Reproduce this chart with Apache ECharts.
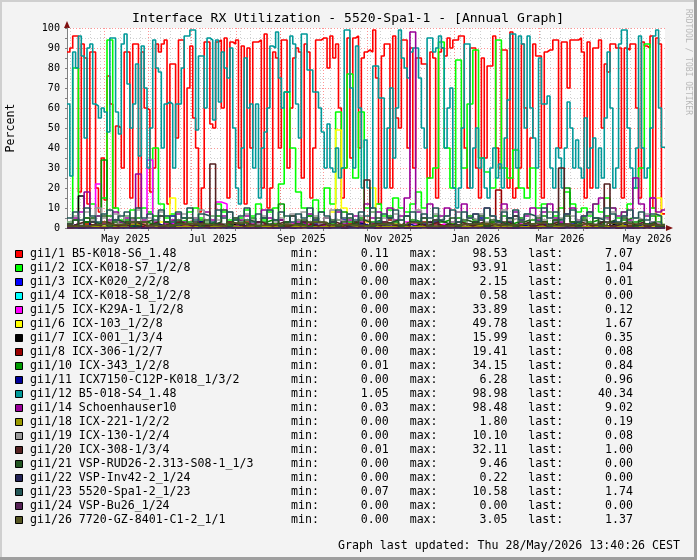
<!DOCTYPE html>
<html>
<head>
<meta charset="utf-8">
<script src="https://cdn.jsdelivr.net/npm/echarts@6/dist/echarts.min.js"></script>
<style>
  html, body { margin: 0; padding: 0; background: #f3f3f3; }
  #chart { width: 697px; height: 560px; }
</style>
</head>
<body>
<div id="chart"></div>
<script>
const DAY = 86400000;
const END = Date.UTC(2026, 4, 28, 11, 40);
const START = END - 418.5 * DAY;

// month grid lines and axis labels
const monthLines = ['2025-05-01', '2025-06-01', '2025-07-01', '2025-08-01', '2025-09-01', '2025-10-01',
  '2025-11-01', '2025-12-01', '2026-01-01', '2026-02-01', '2026-03-01', '2026-04-01', '2026-05-01'];
const labelDates = ['2025-05-16', '2025-07-16', '2025-09-16', '2025-11-16', '2026-01-16', '2026-03-16', '2026-05-16'];
const labelTexts = ['May 2025', 'Jul 2025', 'Sep 2025', 'Nov 2025', 'Jan 2026', 'Mar 2026', 'May 2026'];

// legend
const names = ['gi1/1 B5-K018-S6_1.48', 'gi1/2 ICX-K018-S7_1/2/8', 'gi1/3 ICX-K020_2/2/8', 'gi1/4 ICX-K018-S8_1/2/8',
  'gi1/5 ICX-K29A-1_1/2/8', 'gi1/6 ICX-103_1/2/8', 'gi1/7 ICX-001_1/3/4', 'gi1/8 ICX-306-1/2/7',
  'gi1/10 ICX-343_1/2/8', 'gi1/11 ICX7150-C12P-K018_1/3/2', 'gi1/12 B5-018-S4_1.48', 'gi1/14 Schoenhauser10',
  'gi1/18 ICX-221-1/2/2', 'gi1/19 ICX-130-1/2/4', 'gi1/20 ICX-308-1/3/4', 'gi1/21 VSP-RUD26-2.313-S08-1_1/3',
  'gi1/22 VSP-Inv42-2_1/24', 'gi1/23 5520-Spa1-2_1/23', 'gi1/24 VSP-Bu26_1/24', 'gi1/26 7720-GZ-8401-C1-2_1/1'];
const colors = ['#ff0000', '#00ff00', '#0000ff', '#00ffff', '#ff00ff', '#ffff00', '#000000', '#990000',
  '#009900', '#000099', '#009999', '#990099', '#999900', '#999999', '#552222', '#225522',
  '#222255', '#225555', '#552255', '#555522'];
const statMin = ['0.11', '0.00', '0.00', '0.00', '0.00', '0.00', '0.00', '0.00', '0.01', '0.00',
  '1.05', '0.03', '0.00', '0.00', '0.01', '0.00', '0.00', '0.07', '0.00', '0.00'];
const statMax = ['98.53', '93.91', '2.15', '0.58', '33.89', '49.78', '15.99', '19.41', '34.15', '6.28',
  '98.98', '98.48', '1.80', '10.10', '32.11', '9.46', '0.22', '10.58', '0.00', '3.05'];
const statLast = ['7.07', '1.04', '0.01', '0.00', '0.12', '1.67', '0.35', '0.08', '0.84', '0.96',
  '40.34', '9.02', '0.19', '0.08', '1.00', '0.00', '0.00', '1.74', '0.00', '1.37'];

// series values, 2-day steps
const gi1_1 = [88, 90, 96, 96, 18, 92, 85, 12, 88, 88,
  20, 8, 35, 14, 76, 62, 10, 51, 50, 30,
  88, 88, 15, 92, 92, 10, 88, 60, 59, 18,
  30, 92, 88, 92, 94, 12, 82, 82, 45, 94,
  94, 12, 70, 91, 55, 40, 8, 20, 93, 93,
  52, 50, 93, 94, 60, 95, 15, 93, 92, 94,
  30, 91, 12, 90, 40, 93, 93, 94, 20, 97,
  10, 20, 88, 85, 40, 94, 94, 30, 60, 85,
  90, 88, 25, 92, 88, 15, 40, 94, 94, 95,
  95, 80, 96, 85, 92, 60, 15, 30, 95, 35,
  95, 96, 40, 85, 88, 89, 88, 99, 75, 12,
  86, 92, 92, 20, 96, 55, 50, 94, 94, 40,
  90, 30, 85, 85, 82, 82, 25, 88, 85, 15,
  88, 90, 86, 95, 90, 94, 94, 96, 96, 40,
  20, 90, 90, 30, 15, 85, 35, 81, 81, 96,
  40, 30, 89, 89, 20, 98, 15, 20, 30, 92,
  60, 20, 45, 92, 86, 86, 15, 88, 89, 89,
  94, 94, 40, 93, 93, 70, 94, 94, 94, 95,
  88, 15, 93, 20, 90, 90, 94, 50, 82, 78,
  92, 92, 90, 90, 15, 90, 89, 92, 92, 60,
  15, 93, 91, 90, 96, 10, 95, 92, 7.07];
const gi1_12 = [62, 26, 88, 80, 96, 86, 45, 90, 92, 62,
  61, 55, 60, 58, 48, 95, 95, 58, 47, 92,
  97, 72, 50, 62, 82, 36, 91, 70, 30, 50,
  94, 80, 78, 40, 62, 63, 62, 30, 62, 62,
  80, 96, 96, 99, 99, 49, 86, 86, 60, 95,
  94, 54, 94, 63, 88, 80, 75, 90, 50, 20,
  12, 40, 85, 60, 62, 30, 62, 15, 40, 48,
  60, 91, 90, 98, 75, 60, 68, 68, 96, 92,
  62, 45, 97, 97, 79, 79, 68, 68, 60, 48,
  30, 52, 30, 28, 40, 25, 30, 99, 99, 70,
  30, 91, 60, 20, 44, 20, 10, 81, 81, 65,
  65, 20, 50, 70, 35, 60, 99, 85, 80, 75,
  88, 90, 90, 75, 50, 40, 95, 95, 88, 90,
  96, 90, 40, 60, 70, 20, 10, 20, 50, 92,
  92, 20, 40, 50, 30, 35, 20, 15, 30, 40,
  25, 32, 20, 45, 64, 97, 97, 30, 96, 92,
  50, 96, 60, 45, 30, 85, 62, 62, 66, 30,
  20, 40, 35, 20, 40, 63, 50, 30, 44, 30,
  25, 55, 30, 40, 45, 20, 40, 25, 55, 88,
  60, 20, 30, 92, 99, 99, 50, 30, 20, 40,
  96, 40, 25, 30, 50, 96, 99, 60, 40.34];

// 4-day steps
const gi1_2 = [3, 80, 8, 5, 12, 6, 15, 94, 10, 4,
  6, 9, 3, 10, 8, 40, 12, 5, 7, 3,
  4, 8, 10, 5, 3, 6, 12, 8, 4, 2,
  5, 9, 6, 12, 4, 8, 10, 22, 68, 40,
  18, 10, 6, 14, 8, 20, 12, 58, 30, 77,
  25, 58, 10, 8, 12, 6, 9, 15, 10, 8,
  12, 18, 10, 25, 30, 93, 40, 20, 84, 30,
  62, 89, 35, 28, 20, 94, 30, 25, 39, 20,
  15, 30, 10, 12, 8, 6, 10, 18, 12, 8,
  10, 6, 12, 8, 15, 10, 5, 8, 12, 20,
  30, 92, 10, 6, 1.04];
const gi1_5 = [1, 2, 8, 3, 5, 22, 2, 1, 3, 2,
  1, 4, 2, 3, 34, 2, 1, 3, 2, 1,
  2, 1, 3, 2, 1, 2, 13, 12, 2, 1,
  1, 2, 1, 3, 2, 1, 2, 1, 3, 2,
  1, 2, 1, 2, 3, 1, 2, 1, 2, 1,
  2, 1, 3, 2, 1, 2, 1, 2, 1, 3,
  2, 1, 2, 3, 1, 2, 1, 2, 1, 2,
  1, 2, 3, 1, 2, 1, 2, 1, 2, 3,
  1, 2, 1, 2, 1, 3, 2, 1, 2, 1,
  2, 1, 2, 1, 3, 2, 1, 2, 1, 2,
  3, 1, 15, 2, 0.12];
const gi1_6 = [0, 1, 0, 2, 1, 0, 3, 1, 0, 2,
  1, 0, 2, 1, 0, 1, 3, 2, 15, 1,
  0, 2, 1, 0, 1, 2, 0, 1, 3, 1,
  0, 1, 2, 0, 1, 0, 2, 1, 0, 1,
  2, 0, 1, 3, 1, 2, 8, 49, 10, 2,
  1, 0, 3, 20, 2, 1, 0, 2, 1, 0,
  1, 2, 0, 1, 3, 1, 0, 2, 1, 0,
  2, 1, 0, 1, 2, 0, 1, 3, 1, 0,
  1, 2, 0, 1, 0, 2, 1, 0, 3, 1,
  0, 1, 2, 0, 1, 0, 2, 1, 0, 1,
  2, 0, 1, 15, 1.67];
const gi1_7 = [1, 2, 16, 3, 1, 2, 0, 1, 2, 1,
  3, 1, 2, 0, 1, 2, 1, 3, 1, 0,
  2, 1, 0, 3, 1, 2, 1, 0, 2, 1,
  3, 1, 2, 0, 1, 2, 1, 4, 1, 0,
  2, 1, 3, 1, 0, 2, 1, 2, 0, 1,
  3, 2, 1, 0, 2, 1, 5, 1, 2, 0,
  1, 2, 1, 3, 0, 1, 2, 1, 0, 2,
  1, 3, 1, 2, 0, 1, 2, 1, 6, 1,
  2, 0, 1, 3, 1, 2, 0, 1, 2, 1,
  0, 2, 1, 3, 1, 2, 0, 1, 2, 1,
  0, 1, 2, 0, 0.35];
const gi1_8 = [0, 1, 0, 2, 1, 0, 1, 3, 0, 1,
  2, 0, 1, 0, 1, 2, 0, 1, 0, 3,
  1, 0, 2, 1, 0, 1, 0, 2, 1, 0,
  1, 3, 0, 1, 2, 0, 1, 0, 2, 1,
  0, 1, 2, 0, 1, 0, 3, 1, 0, 2,
  1, 0, 1, 2, 0, 1, 4, 0, 1, 2,
  0, 1, 3, 0, 2, 1, 0, 1, 2, 0,
  1, 0, 2, 1, 3, 19, 2, 0, 1, 0,
  2, 1, 0, 3, 1, 0, 2, 1, 0, 1,
  0, 2, 1, 0, 1, 3, 0, 1, 2, 0,
  1, 0, 2, 1, 0.08];
const gi1_10 = [2, 4, 1, 3, 5, 2, 34, 6, 3, 2,
  4, 1, 5, 3, 2, 6, 1, 3, 4, 2,
  5, 3, 1, 4, 2, 3, 6, 2, 1, 4,
  3, 2, 5, 1, 3, 4, 2, 12, 3, 1,
  4, 2, 6, 3, 1, 5, 2, 4, 8, 3,
  2, 5, 1, 3, 4, 2, 6, 3, 1, 2,
  4, 3, 5, 2, 6, 3, 4, 2, 5, 3,
  6, 4, 2, 5, 3, 4, 6, 2, 3, 5,
  2, 4, 3, 6, 2, 4, 5, 20, 3, 2,
  5, 3, 4, 2, 6, 3, 2, 4, 5, 3,
  4, 2, 6, 3, 0.84];
const gi1_11 = [1, 2, 0, 1, 3, 1, 0, 2, 1, 0,
  2, 1, 3, 0, 1, 2, 1, 0, 6, 1,
  0, 2, 1, 3, 1, 0, 2, 1, 0, 1,
  2, 0, 1, 3, 1, 2, 0, 1, 2, 0,
  1, 3, 0, 2, 1, 0, 1, 2, 4, 1,
  0, 2, 1, 0, 3, 1, 2, 0, 1, 2,
  1, 0, 2, 1, 3, 0, 1, 2, 1, 0,
  2, 1, 5, 0, 1, 2, 1, 3, 0, 1,
  2, 1, 0, 2, 1, 3, 1, 0, 2, 1,
  0, 1, 2, 1, 0, 3, 1, 2, 0, 1,
  2, 1, 3, 1, 0.96];
const gi1_14 = [2, 5, 1, 18, 3, 6, 2, 4, 8, 3,
  5, 2, 27, 4, 1, 3, 6, 2, 4, 7,
  3, 1, 5, 2, 8, 4, 2, 6, 3, 1,
  4, 6, 2, 3, 9, 5, 1, 4, 2, 6,
  3, 2, 7, 4, 1, 5, 3, 8, 2, 4,
  6, 3, 12, 5, 8, 3, 10, 4, 6, 15,
  98, 8, 5, 12, 4, 6, 10, 3, 8, 12,
  5, 7, 4, 10, 6, 3, 12, 5, 8, 4,
  6, 10, 4, 8, 12, 5, 3, 7, 10, 4,
  6, 8, 12, 15, 5, 10, 6, 8, 4, 25,
  12, 6, 15, 8, 9.02];
const gi1_19 = [3, 6, 2, 8, 4, 10, 5, 3, 7, 2,
  6, 4, 9, 3, 5, 2, 8, 6, 3, 4,
  7, 2, 5, 9, 3, 6, 4, 2, 8, 5,
  3, 7, 4, 2, 6, 9, 3, 5, 2, 7,
  4, 8, 3, 6, 2, 5, 9, 4, 3, 7,
  2, 6, 4, 8, 3, 5, 2, 7, 4, 6,
  3, 9, 5, 2, 7, 4, 6, 3, 8, 2,
  5, 4, 7, 3, 6, 2, 9, 4, 5, 3,
  7, 2, 6, 4, 8, 3, 5, 2, 6, 4,
  3, 7, 2, 5, 4, 8, 3, 6, 2, 5,
  4, 7, 3, 2, 0.08];
const gi1_20 = [1, 2, 3, 1, 2, 1, 3, 2, 1, 2,
  1, 3, 2, 1, 2, 3, 1, 2, 1, 3,
  2, 1, 2, 3, 1, 32, 2, 1, 3, 2,
  1, 2, 1, 3, 2, 1, 2, 3, 1, 2,
  1, 3, 2, 1, 2, 1, 3, 2, 1, 2,
  3, 1, 24, 2, 1, 3, 2, 1, 2, 1,
  3, 2, 1, 2, 3, 1, 2, 1, 3, 2,
  1, 2, 3, 1, 2, 1, 3, 2, 1, 2,
  3, 1, 2, 1, 2, 3, 30, 2, 1, 3,
  2, 1, 2, 3, 22, 1, 2, 3, 1, 2,
  3, 1, 2, 1, 1.00];
const gi1_21 = [2, 4, 1, 5, 3, 2, 6, 1, 4, 3,
  2, 5, 1, 3, 4, 2, 6, 3, 1, 4,
  2, 5, 3, 1, 4, 2, 3, 9, 1, 5,
  2, 4, 3, 1, 5, 2, 4, 1, 3, 6,
  2, 4, 1, 5, 3, 2, 4, 1, 3, 5,
  2, 4, 3, 1, 5, 2, 3, 4, 1, 6,
  3, 2, 5, 1, 4, 3, 2, 5, 1, 4,
  3, 2, 6, 1, 4, 3, 2, 5, 1, 3,
  4, 2, 5, 3, 1, 4, 2, 6, 3, 1,
  4, 2, 5, 1, 3, 4, 2, 5, 3, 1,
  4, 2, 3, 1, 0];
const gi1_23 = [5, 8, 4, 10, 6, 3, 7, 9, 4, 6,
  8, 3, 10, 5, 7, 4, 9, 6, 3, 8,
  5, 10, 4, 7, 6, 3, 9, 5, 8, 4,
  6, 10, 3, 7, 5, 9, 4, 8, 6, 3,
  7, 5, 10, 4, 8, 6, 3, 9, 5, 7,
  4, 8, 6, 10, 3, 7, 5, 9, 4, 6,
  8, 3, 7, 5, 10, 4, 6, 9, 3, 8,
  5, 7, 4, 10, 6, 3, 8, 5, 9, 4,
  7, 6, 3, 10, 5, 8, 4, 7, 9, 3,
  6, 8, 5, 4, 10, 7, 3, 6, 9, 5,
  8, 4, 7, 6, 1.74];

// 14-day steps
const gi1_3 = [0.3, 0.5, 1.2, 0.4, 0.8, 2.1, 0.5, 0.3, 0.9, 0.6, 0.4, 1.1, 0.7, 0.3, 0.5,
  0.8, 1.5, 0.4, 0.6, 0.3, 0.9, 0.5, 0.7, 1.2, 0.4, 0.6, 0.3, 0.8, 0.5, 0.01];
const gi1_4 = [0.1, 0.2, 0.3, 0.1, 0.5, 0.2, 0.1, 0.3, 0.2, 0.1, 0.4, 0.2, 0.1, 0.3, 0.2,
  0.5, 0.1, 0.2, 0.3, 0.1, 0.2, 0.4, 0.1, 0.2, 0.3, 0.1, 0.2, 0.1, 0.3, 0];
const gi1_18 = [0.5, 1.0, 0.7, 1.8, 0.4, 0.9, 0.6, 1.2, 0.3, 0.8, 1.1, 0.5, 0.7, 1.4, 0.4,
  0.9, 0.6, 1.0, 0.3, 0.8, 1.3, 0.5, 0.7, 1.0, 0.4, 0.9, 0.6, 1.2, 0.5, 0.19];
const gi1_22 = [0.05, 0.1, 0.2, 0.1, 0.05, 0.15, 0.1, 0.2, 0.05, 0.1, 0.15, 0.1, 0.05, 0.2, 0.1,
  0.05, 0.15, 0.1, 0.2, 0.05, 0.1, 0.15, 0.05, 0.1, 0.2, 0.1, 0.05, 0.15, 0.1, 0];
const gi1_24 = [0, 0, 0, 0, 0, 0, 0, 0, 0, 0, 0, 0, 0, 0, 0,
  0, 0, 0, 0, 0, 0, 0, 0, 0, 0, 0, 0, 0, 0, 0];
const gi1_26 = [1.0, 2.0, 1.5, 3.0, 1.2, 2.2, 1.8, 1.0, 2.5, 1.4, 2.0, 1.1, 2.8, 1.6, 1.2,
  2.1, 1.5, 2.6, 1.0, 1.8, 2.3, 1.3, 1.9, 2.7, 1.4, 2.0, 1.2, 2.4, 1.6, 1.37];

const values = [gi1_1, gi1_2, gi1_3, gi1_4, gi1_5, gi1_6, gi1_7, gi1_8, gi1_10, gi1_11,
  gi1_12, gi1_14, gi1_18, gi1_19, gi1_20, gi1_21, gi1_22, gi1_23, gi1_24, gi1_26];
const stepDays = [2, 4, 14, 14, 4, 4, 4, 4, 4, 4, 2, 4, 14, 4, 4, 4, 14, 4, 14, 14];

function toPoints(vals, step) {
  const pts = vals.map((v, i) => [START + i * step * DAY, v]);
  pts.push([END, vals[vals.length - 1]]);
  return pts;
}

// weekly minor grid (mondays)
const weekLines = [];
for (let t = Date.UTC(2025, 3, 7); t < END; t += 7 * DAY) weekLines.push(t);

const monthTimes = monthLines.map(d => Date.parse(d));
const labelTimes = labelDates.map(d => Date.parse(d));

const MONO = '"DejaVu Sans Mono", monospace';
const LEG = 11.6;
const AX = 10.15;

function gridLines(times, color) {
  return {
    type: 'custom', z: 1, silent: true, clip: true,
    data: times.map(t => [t, 0]),
    renderItem(params, api) {
      const a = api.coord([api.value(0), 100]);
      const b = api.coord([api.value(0), 0]);
      const x = Math.round(a[0]) + 0.5;
      return {
        type: 'line',
        shape: {x1: x, y1: a[1], x2: x, y2: b[1]},
        style: {stroke: color, lineWidth: 1, lineDash: [1, 2]}
      };
    }
  };
}

const series = [
  gridLines(weekLines, 'rgba(170,170,170,0.55)'),
  gridLines(monthTimes, 'rgba(255,60,60,0.55)')
].concat(values.map((vals, k) => ({
  name: names[k],
  type: 'line',
  step: 'end',
  z: 2,
  symbol: 'none',
  silent: true,
  clip: true,
  lineStyle: {color: colors[k], width: 1.6},
  data: toPoints(vals, stepDays[k])
})));

// legend + texts as graphic elements
const graphic = [
  {type: 'rect', shape: {x: 0, y: 0, width: 697, height: 2}, style: {fill: '#cfcfcf'}},
  {type: 'rect', shape: {x: 0, y: 0, width: 2, height: 560}, style: {fill: '#cfcfcf'}},
  {type: 'rect', shape: {x: 0, y: 557, width: 697, height: 3}, style: {fill: '#9e9e9e'}},
  {type: 'rect', shape: {x: 694, y: 0, width: 3, height: 560}, style: {fill: '#9e9e9e'}},
  {type: 'text', x: 348, y: 19, style: {text: 'Interface RX Utilization - 5520-Spa1-1 - [Annual Graph]',
    font: '13.05px ' + MONO, fill: '#000', align: 'center', verticalAlign: 'middle'}},
  {type: 'text', x: 11, y: 128, rotation: Math.PI / 2, style: {text: 'Percent',
    font: LEG + 'px ' + MONO, fill: '#000', align: 'center', verticalAlign: 'middle'}},
  {type: 'text', x: 688, y: 62, rotation: -Math.PI / 2, style: {text: 'RRDTOOL / TOBI OETIKER',
    font: '8px ' + MONO, fill: '#b8b8b8', align: 'center', verticalAlign: 'middle'}},
  {type: 'text', x: 680, y: 546, style: {text: 'Graph last updated: Thu 28/May/2026 13:40:26 CEST',
    font: LEG + 'px ' + MONO, fill: '#000', align: 'right', verticalAlign: 'middle'}},
  {type: 'polygon', shape: {points: [[64, 28], [70, 28], [67, 21]]}, style: {fill: '#7f1010'}},
  {type: 'polygon', shape: {points: [[666, 225], [666, 231], [673, 228]]}, style: {fill: '#7f1010'}}
];
const CW = 6.98;
names.forEach((n, i) => {
  const y = 254 + i * 14;
  const txt = (s, x, align) => ({type: 'text', x, y, style: {text: s, font: LEG + 'px ' + MONO,
    fill: '#000', align, verticalAlign: 'middle'}});
  graphic.push({type: 'rect', shape: {x: 15.5, y: y - 3.5, width: 7, height: 7},
    style: {fill: colors[i], stroke: '#000', lineWidth: 1}});
  graphic.push(txt(n, 30, 'left'));
  graphic.push(txt('min:', 291, 'left'));
  graphic.push(txt(statMin[i], 291 + 14 * CW, 'right'));
  graphic.push(txt('max:', 291 + 17 * CW, 'left'));
  graphic.push(txt(statMax[i], 291 + 31 * CW, 'right'));
  graphic.push(txt('last:', 291 + 34 * CW, 'left'));
  graphic.push(txt(statLast[i], 291 + 49 * CW, 'right'));
});

const chart = echarts.init(document.getElementById('chart'), null, {renderer: 'canvas'});
chart.setOption({
  animation: false,
  backgroundColor: '#f3f3f3',
  grid: {left: 67, top: 28, width: 598, height: 200, show: true, backgroundColor: '#ffffff', borderWidth: 0},
  xAxis: {
    type: 'value', min: START, max: END,
    axisLine: {show: true, lineStyle: {color: '#808080', width: 1}},
    axisTick: {show: true, customValues: monthTimes, length: 3, lineStyle: {color: '#808080'}},
    splitLine: {show: false},
    axisLabel: {
      customValues: labelTimes,
      formatter: v => labelTexts[labelTimes.indexOf(v)] || '',
      color: '#000', fontFamily: MONO, fontSize: AX, margin: 6
    }
  },
  yAxis: {
    type: 'value', min: 0, max: 100, interval: 10,
    axisLine: {show: true, lineStyle: {color: '#808080', width: 1}},
    axisTick: {show: true, length: 2, lineStyle: {color: '#808080'}},
    minorTick: {show: true, splitNumber: 2, length: 2, lineStyle: {color: '#808080'}},
    axisLabel: {color: '#000', fontFamily: MONO, fontSize: AX, margin: 7},
    splitLine: {show: true, lineStyle: {color: 'rgba(255,60,60,0.55)', width: 1, type: [1, 2]}},
    minorSplitLine: {show: true, lineStyle: {color: 'rgba(170,170,170,0.55)', width: 1, type: [1, 2]}}
  },
  series,
  graphic
});
</script>
</body>
</html>
